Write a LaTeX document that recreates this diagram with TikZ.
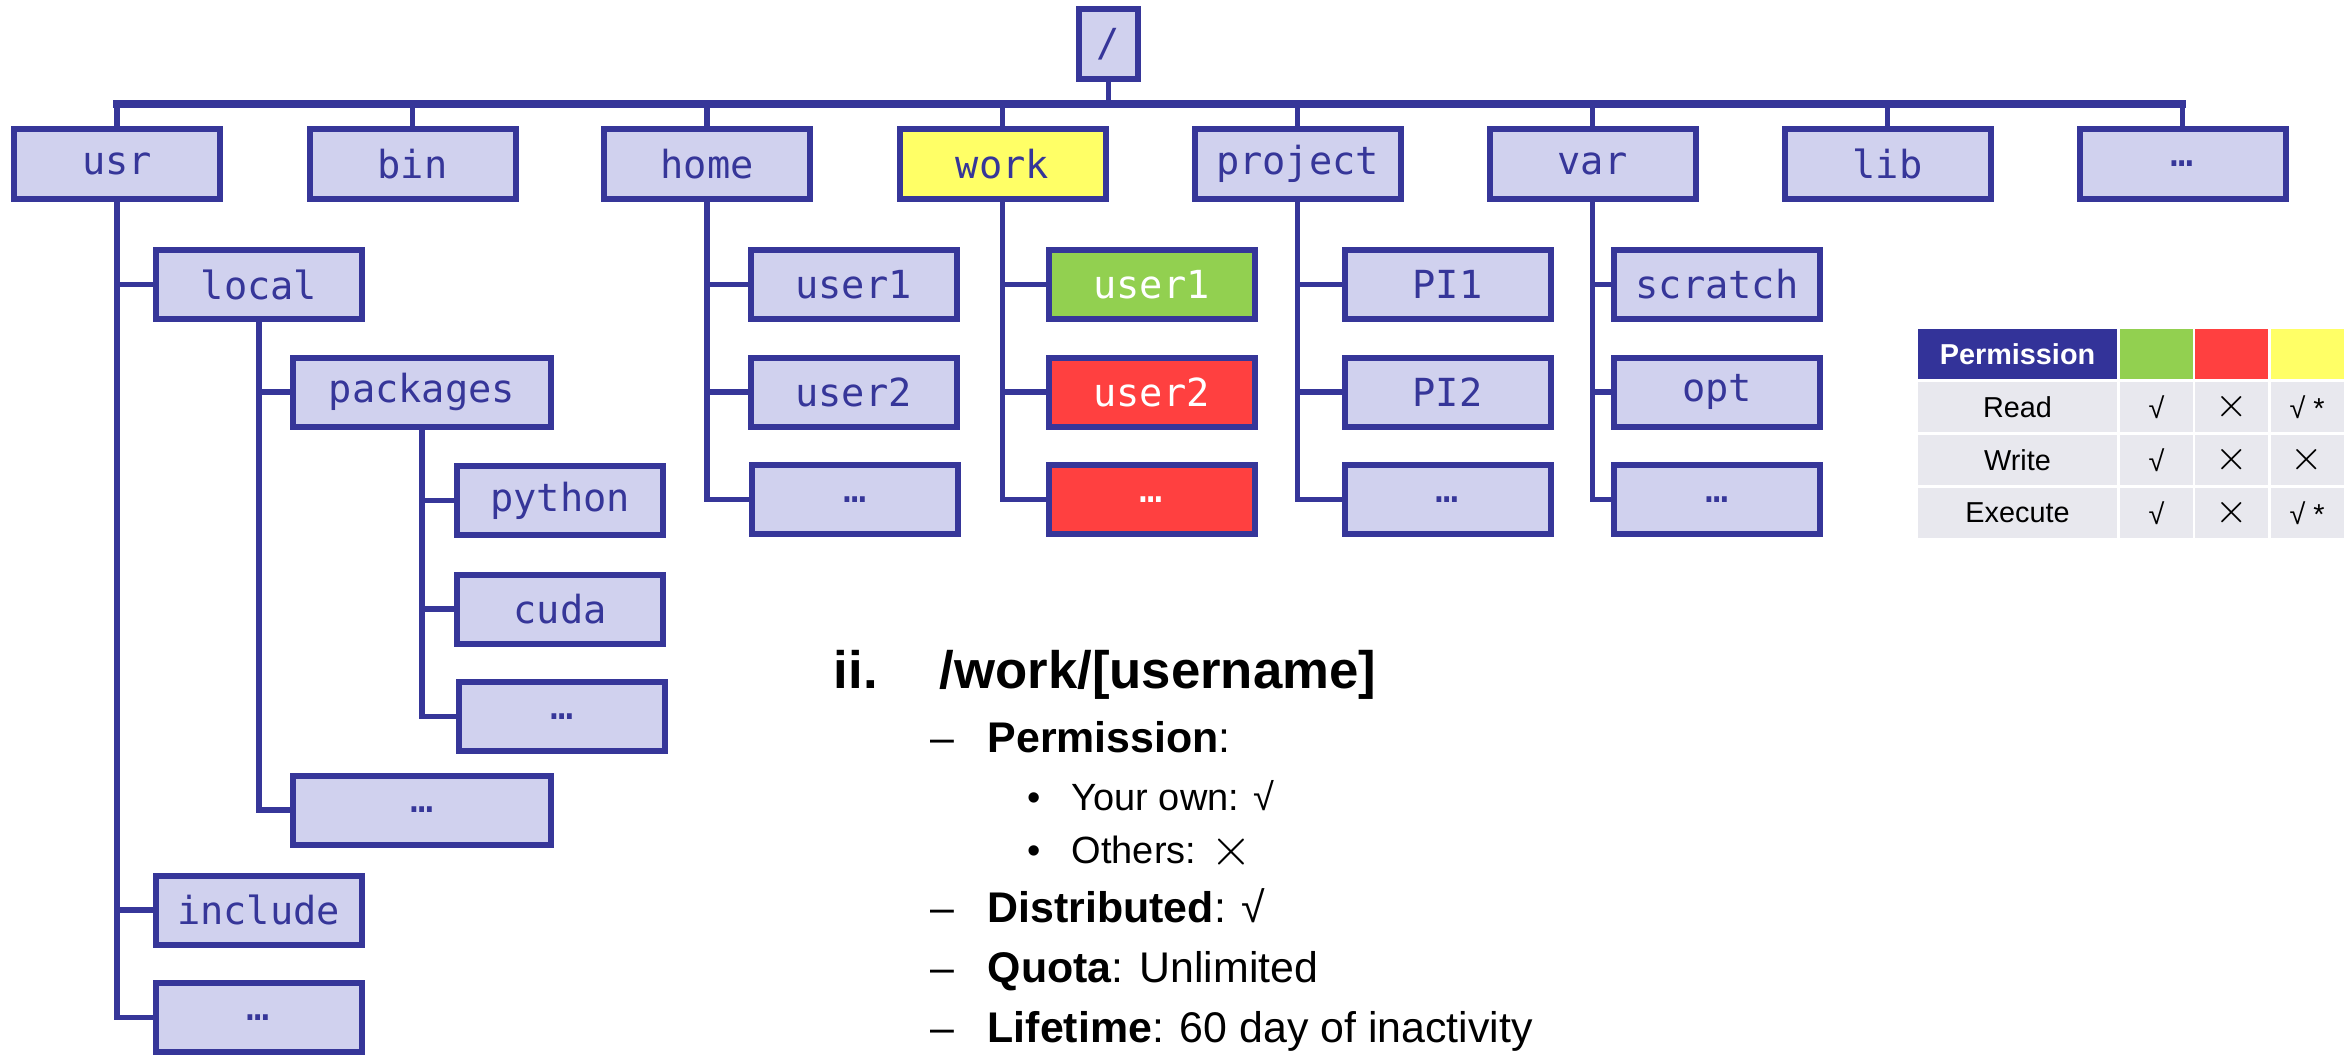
\documentclass[tikz,border=0pt]{standalone}
\usepackage{fontspec}
\setmainfont{Liberation Sans}
\setmonofont{DejaVu Sans Mono}
\usepackage{xcolor}
\usetikzlibrary{calc}

\definecolor{dirline}{RGB}{54,54,153}
\definecolor{dirfill}{RGB}{208,209,238}
\definecolor{workyel}{RGB}{255,255,102}
\definecolor{okgreen}{RGB}{146,208,80}
\definecolor{nored}{RGB}{255,64,64}
\definecolor{hdrblue}{RGB}{51,51,153}
\definecolor{cellgray}{RGB}{232,232,238}

% 細くて大きめのバツ印
\newcommand{\bigcross}{\raisebox{-0.06em}{\scalebox{1.4}{$\times$}}}

\begin{document}
\begin{tikzpicture}[
    dir/.style={draw=dirline, line width=0.06cm, fill=dirfill, text=dirline,
        font=\ttfamily\fontsize{11}{12}\selectfont,
        minimum width=2.06cm, minimum height=0.69cm, inner sep=0pt},
    widedir/.style={dir, minimum width=2.58cm},
    branch/.style={draw=dirline, line width=0.055cm},
    bus/.style={draw=dirline, line width=0.075cm, line cap=rect},
    cell/.style={inner sep=0pt, minimum height=0.50cm, minimum width=0.73cm,
        fill=cellgray, font=\fontsize{8.2}{10}\selectfont},
    txt/.style={anchor=base west, inner sep=0pt},
    lvone/.style={font=\bfseries\fontsize{15}{18}\selectfont},
    lvtwo/.style={font=\fontsize{12.2}{14}\selectfont},
    lvthree/.style={font=\fontsize{10.8}{13}\selectfont}
]
    \useasboundingbox (0,0) rectangle (23.51,-10.56);

    % ルート
    \node[dir, minimum width=0.59cm, minimum height=0.70cm] (root) at (11.085,-0.44) {/};

    % 第1階層
    \foreach \name/\label/\x/\col in {usr/usr/1.17/dirfill, bin/bin/4.125/dirfill,
        home/home/7.07/dirfill, work/work/10.025/workyel, project/project/12.975/dirfill,
        var/var/15.925/dirfill, lib/lib/18.875/dirfill, more/…/21.825/dirfill} {
        \node[dir, fill=\col, minimum height=0.70cm] (\name) at (\x,-1.64) {\label};
    }

    % 横のバス
    \coordinate (bus) at (0,-1.04);
    \draw[bus] (usr.north |- bus) -- (more.north |- bus);
    \draw[branch] (root.south) -- (root.south |- bus);
    \foreach \name in {usr,bin,home,work,project,var,lib,more} {
        \draw[branch] (\name.north) -- (\name.north |- bus);
    }

    % usr の下
    \node[dir] (local) at (2.59,-2.845) {local};
    \node[widedir] (packages) at (4.22,-3.92) {packages};
    \node[dir] (python) at (5.60,-5.005) {python};
    \node[dir] (cuda) at (5.60,-6.09) {cuda};
    \node[dir] (pkgmore) at (5.62,-7.165) {…};
    \node[widedir] (localmore) at (4.22,-8.10) {…};
    \node[dir] (include) at (2.585,-9.10) {include};
    \node[dir] (usrmore) at (2.585,-10.175) {…};

    \foreach \kid in {local,include,usrmore} {
        \draw[branch] (usr.south) |- (\kid.west);
    }
    \foreach \kid in {packages,localmore} {
        \draw[branch] (local.south) |- (\kid.west);
    }
    \foreach \kid in {python,cuda,pkgmore} {
        \draw[branch] (packages.south) |- (\kid.west);
    }

    % home, work, project, var の下
    \node[dir] (huser1) at (8.535,-2.845) {user1};
    \node[dir] (huser2) at (8.535,-3.92) {user2};
    \node[dir] (homemore) at (8.55,-4.995) {…};

    \node[dir, fill=okgreen, text=white] (wuser1) at (11.515,-2.845) {user1};
    \node[dir, fill=nored, text=white] (wuser2) at (11.515,-3.92) {user2};
    \node[dir, fill=nored, text=white] (workmore) at (11.515,-4.995) {…};

    \node[dir] (pione) at (14.475,-2.845) {PI1};
    \node[dir] (pitwo) at (14.475,-3.92) {PI2};
    \node[dir] (projmore) at (14.475,-4.995) {…};

    \node[dir] (scratch) at (17.17,-2.845) {scratch};
    \node[dir] (opt) at (17.17,-3.92) {opt};
    \node[dir] (varmore) at (17.17,-4.995) {…};

    \foreach \top/\a/\b/\c in {home/huser1/huser2/homemore, work/wuser1/wuser2/workmore,
        project/pione/pitwo/projmore, var/scratch/opt/varmore} {
        \draw[branch] (\top.south) |- (\a.west);
        \draw[branch] (\top.south) |- (\b.west);
        \draw[branch] (\top.south) |- (\c.west);
    }

    % 権限の表
    \node[cell, fill=hdrblue, text=white, font=\bfseries\fontsize{8.2}{10}\selectfont,
        minimum width=1.99cm] (t-0-0) at (20.175,-3.54) {Permission};
    \node[cell, fill=okgreen] (t-0-1) at (21.565,-3.54) {};
    \node[cell, fill=nored] (t-0-2) at (22.315,-3.54) {};
    \node[cell, fill=workyel] (t-0-3) at (23.07,-3.54) {};
    \foreach \what/\a/\b/\c [count=\i] in {Read/√/\bigcross/{√ *}, Write/√/\bigcross/\bigcross,
        Execute/√/\bigcross/{√ *}} {
        \pgfmathsetmacro\ty{-3.54 - 0.53*\i}
        \node[cell, minimum width=1.99cm] (t-\i-0) at (20.175,\ty) {\what};
        \node[cell] (t-\i-1) at (21.565,\ty) {\a};
        \node[cell] (t-\i-2) at (22.315,\ty) {\b};
        \node[cell] (t-\i-3) at (23.07,\ty) {\c};
    }

    % 説明文
    \node[txt, lvone] (hnum) at (8.33,-6.88) {ii.};
    \node[txt, lvone] (htitle) at (9.39,-6.88) {/work/[username]};
    \foreach \y/\line [count=\k] in {7.52/{\textbf{Permission}:}, 9.22/{\textbf{Distributed}: √},
        9.82/{\textbf{Quota}: Unlimited}, 10.42/{\textbf{Lifetime}: 60 day of inactivity}} {
        \node[txt, lvtwo] (dash\k) at (9.30,-\y) {–};
        \node[txt, lvtwo] (item\k) at (9.87,-\y) {\line};
    }
    \foreach \y/\line [count=\k] in {8.10/{Your own: √}, 8.63/{Others: \bigcross}} {
        \node[txt, lvthree] (dot\k) at (10.27,-\y) {•};
        \node[txt, lvthree] (sub\k) at (10.71,-\y) {\line};
    }
\end{tikzpicture}
\end{document}
